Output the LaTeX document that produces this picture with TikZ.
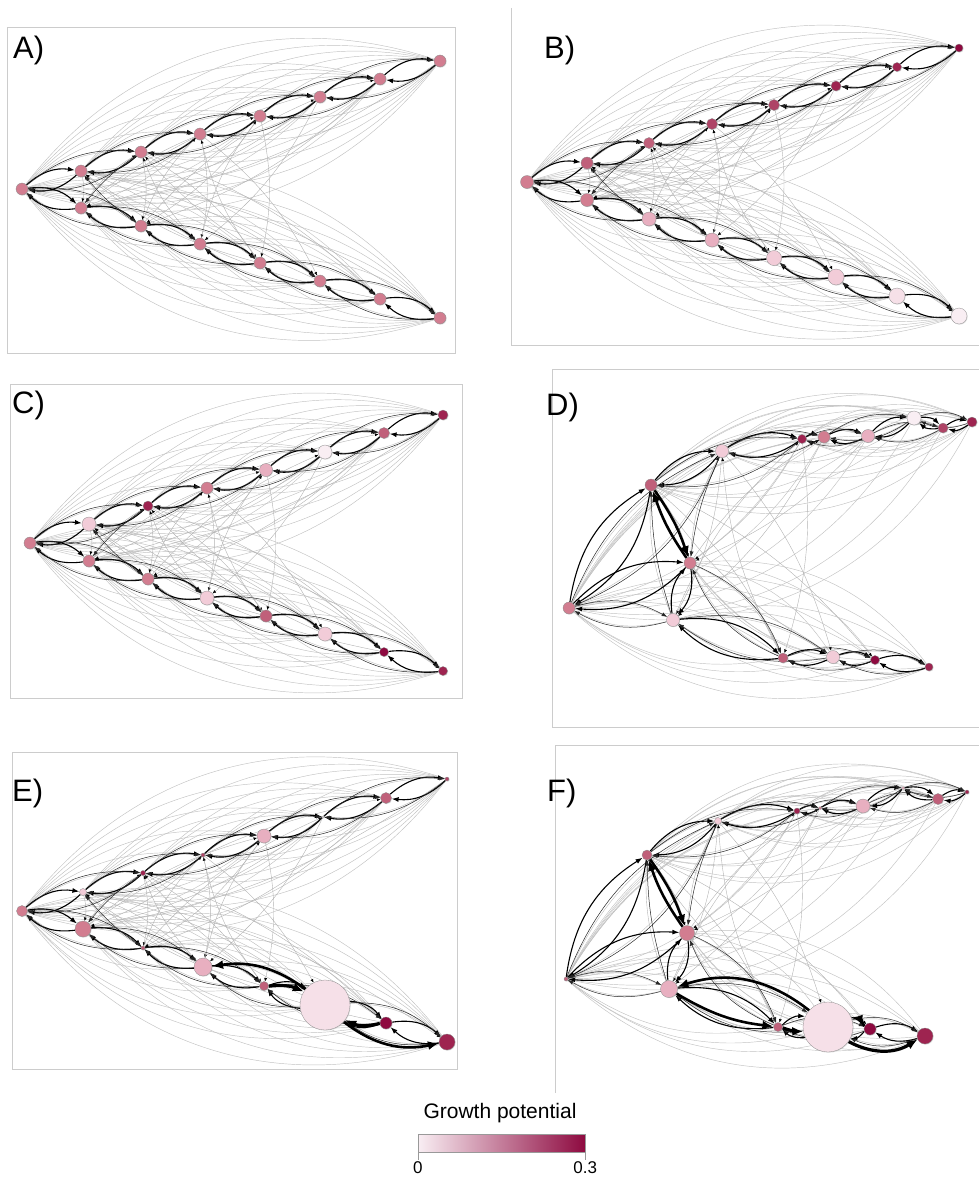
\documentclass[tikz,border=0pt]{standalone}
\usepackage{fontspec}
\setmainfont{Liberation Sans}
\usetikzlibrary{arrows.meta,shadows}

\definecolor{gp0}{HTML}{F9EEF3}
\definecolor{gpx}{HTML}{F6E0E8}
\definecolor{gp1}{HTML}{F2CCD8}
\definecolor{gp2}{HTML}{E8AFC0}
\definecolor{gp3}{HTML}{D27D90}
\definecolor{gp4}{HTML}{C0607A}
\definecolor{gp5}{HTML}{AE4466}
\definecolor{gp6}{HTML}{9E2450}
\definecolor{gp7}{HTML}{8E0A40}
\definecolor{gpmid}{HTML}{D58596}

\pgfdeclarelayer{bg}
\pgfsetlayers{bg,main}

% edges of one panel: #1 panel, #2 upper count, #3 lower count, #4 cross limit
\newcommand\drawnet[4]{%
  \begin{pgfonlayer}{bg}
  % faint arcs along each branch
  \foreach \sd/\nn in {u/#2,l/#3}{
    \foreach \i in {0,...,\nn}{
      \pgfmathtruncatemacro\k{\i+2}
      \ifnum\k>\nn\relax\else
        \foreach \j in {\k,...,\nn}{
          \pgfmathtruncatemacro\bnd{14+3*(\j-\i)}
          \draw[faint] (#1\sd\i) to[bend left=\bnd] (#1\sd\j);
          \draw[faint] (#1\sd\i) to[bend right=\bnd] (#1\sd\j);
        }
      \fi
    }
  }
  % faint links between the branches
  \foreach \i in {1,...,#2}{
    \foreach \j in {1,...,#3}{
      \pgfmathtruncatemacro\sm{\i+\j}
      \ifnum\sm<#4
        \ifodd\sm \draw[cross] (#1l\j) to[bend left=12] (#1u\i);
        \else \draw[cross] (#1u\i) to[bend left=12] (#1l\j); \fi
      \fi
    }
  }
  % main links
  \foreach \sd/\nn in {u/#2,l/#3}{
    \pgfmathtruncatemacro\m{\nn-1}
    \foreach \i in {0,...,\m}{
      \pgfmathtruncatemacro\j{\i+1}
      \draw[link] (#1\sd\i) to[bend left=25] (#1\sd\j);
      \draw[link] (#1\sd\j) to[bend left=25] (#1\sd\i);
    }
    \pgfmathtruncatemacro\m{\nn-2}
    \foreach \i in {0,...,\m}{
      \pgfmathtruncatemacro\j{\i+2}
      \draw[thinlink] (#1\sd\i) to[bend left=22] (#1\sd\j);
      \draw[thinlink] (#1\sd\j) to[bend left=22] (#1\sd\i);
    }
  }
  \draw[thinlink] (#1u2) to[bend right=8] (#1l1);
  \draw[thinlink] (#1l2) to[bend left=8] (#1u1);
  \end{pgfonlayer}
}

\begin{document}
\begin{tikzpicture}[x=1pt, y=-1pt,
    vtx/.style={circle, draw=black!45, line width=0.3pt, inner sep=0pt, minimum size=#1pt,
      drop shadow={opacity=0.25, shadow xshift=0.7pt, shadow yshift=-0.7pt}},
    link/.style={-{Latex[length=7pt,width=5pt]}, line width=1.1pt},
    thinlink/.style={-{Latex[length=5.5pt,width=4pt]}, line width=0.5pt, black!85},
    heavy/.style={-{Latex[length=11pt,width=9pt]}, line width=2.6pt},
    faint/.style={black!24, line width=0.45pt},
    cross/.style={black!30, line width=0.4pt, -{Latex[length=3.5pt,width=3pt,color=black]}},
    frame/.style={black!20, line width=0.8pt},
    panel/.style={anchor=base west, inner sep=0pt, font=\fontsize{31}{34}\selectfont}]
\useasboundingbox (0,0) rectangle (979,1180);

% Panel A
\draw[frame] (7,27) rectangle (455,353);
\node[panel] (labA) at (13,59) {A)};
\node[vtx=12, fill=gp3, alias=Al0] (Au0) at (22,189) {};
\foreach \i/\x/\y in {1/81/171, 2/141/152, 3/200/134, 4/260/116, 5/320/97, 6/380/79, 7/440/61}
  \node[vtx=12, fill=gp3] (Au\i) at (\x,\y) {};
\foreach \i/\x/\y in {1/81/208, 2/141/226, 3/200/244, 4/260/263, 5/320/281, 6/380/299, 7/440/318}
  \node[vtx=12, fill=gp3] (Al\i) at (\x,\y) {};
\drawnet{A}{7}{7}{9}

% Panel B
\draw[frame] (511,8) -- (511,345) -- (979,345);
\node[panel] (labB) at (544,59) {B)};
\node[vtx=13, fill=gp3, alias=Bl0] (Bu0) at (527,182) {};
\foreach \i/\x/\y/\d/\col in {1/587/163/12/gp4, 2/649/143/11/gp4, 3/712/124/11/gp5, 4/774/105/11/gp5,
    5/836/86/10/gp6, 6/897/67/9/gp6, 7/959/48/8/gp7}
  \node[vtx=\d, fill=\col] (Bu\i) at (\x,\y) {};
\foreach \i/\x/\y/\d/\col in {1/587/200/13/gp3, 2/649/219/14/gp2, 3/712/240/14/gp2, 4/774/258/15/gp1,
    5/836/277/16/gp1, 6/897/296/16/gpx, 7/959/316/16/gp0}
  \node[vtx=\d, fill=\col] (Bl\i) at (\x,\y) {};
\drawnet{B}{7}{7}{9}

% Panel C
\draw[frame] (10,384) rectangle (462,698);
\node[panel] (labC) at (12,413) {C)};
\node[vtx=12, fill=gp3, alias=Cl0] (Cu0) at (30,543) {};
\foreach \i/\x/\y/\d/\col in {1/89/524/14/gp1, 2/148/506/10/gp6, 3/207/488/12/gp3, 4/266/470/13/gp2,
    5/325/452/14/gp0, 6/384/433/11/gp4, 7/443/415/10/gp6}
  \node[vtx=\d, fill=\col] (Cu\i) at (\x,\y) {};
\foreach \i/\x/\y/\d/\col in {1/89/561/12/gp3, 2/148/579/12/gp3, 3/207/598/14/gp1, 4/266/616/12/gp4,
    5/325/634/14/gp1, 6/384/652/9/gp7, 7/443/671/9/gp6}
  \node[vtx=\d, fill=\col] (Cl\i) at (\x,\y) {};
\drawnet{C}{7}{7}{9}

% Panel D
\draw[frame] (979,369) -- (552,369) -- (552,727) -- (979,727);
\node[panel] (labD) at (546,415) {D)};
\node[vtx=12, fill=gp3, alias=Dl0] (Du0) at (569,608) {};
\foreach \i/\x/\y/\d/\col in {1/651/485/12/gp4, 2/722/451/13/gp1, 3/802/439/9/gp6, 4/824/437/12/gp3,
    5/868/436/13/gp2, 6/914/418/14/gp0, 7/943/428/10/gp5, 8/972/422/10/gp6}
  \node[vtx=\d, fill=\col] (Du\i) at (\x,\y) {};
\foreach \i/\x/\y/\d/\col in {1/690/563/12/gp3, 2/673/620/13/gp1, 3/783/658/10/gp4, 4/833/657/13/gp1,
    5/875/660/9/gp7, 6/929/667/8/gp6}
  \node[vtx=\d, fill=\col] (Dl\i) at (\x,\y) {};
\drawnet{D}{8}{6}{7}
\begin{pgfonlayer}{bg}
  \draw[heavy] (Du1) to[bend left=8] (Dl1);
  \draw[heavy] (Dl1) to[bend left=8] (Du1);
\end{pgfonlayer}

% Panel E
\draw[frame] (12,752) rectangle (457,1069);
\node[panel] (labE) at (12,801) {E)};
\node[vtx=11, fill=gp3, alias=El0] (Eu0) at (22,911) {};
\foreach \i/\x/\y/\d/\col in {1/83/892/7/gp1, 2/143/873/5/gp6, 3/203/855/4/gp5, 4/264/836/14/gp2,
    5/323/817/2/gp0, 6/386/798/11/gp4, 7/447/779/4/gp5}
  \node[vtx=\d, fill=\col] (Eu\i) at (\x,\y) {};
\foreach \i/\x/\y/\d/\col in {1/83/929/16/gp3, 2/143/948/4/gp4, 3/203/967/18/gp2, 4/264/986/9/gp4,
    5/325/1005/50/gpx, 6/386/1023/12/gp7, 7/447/1042/16/gp6}
  \node[vtx=\d, fill=\col] (El\i) at (\x,\y) {};
\drawnet{E}{7}{7}{9}
\begin{pgfonlayer}{bg}
  \draw[heavy, line width=3.2pt] (El4) to[bend left=15] (El5);
  \draw[heavy] (El5) to[bend right=22] (El3);
  \draw[heavy, line width=3.2pt] (El6) to[bend left=20] (El5);
  \draw[heavy] (El5) to[bend right=25] (El7);
\end{pgfonlayer}

% Panel F
\draw[frame] (979,745) -- (555,745) -- (555,1093);
\node[panel] (labF) at (547,801) {F)};
\node[vtx=4, fill=gp4, alias=Fl0] (Fu0) at (566,979) {};
\foreach \i/\x/\y/\d/\col in {1/647/855/10/gp4, 2/718/821/7/gp1, 3/797/811/6/gp6, 4/820/808/3/gp3,
    5/863/806/14/gp2, 6/903/788/3/gp2, 7/938/799/11/gp4, 8/967/792/4/gp6}
  \node[vtx=\d, fill=\col] (Fu\i) at (\x,\y) {};
\foreach \i/\x/\y/\d/\col in {1/687/933/15/gp3, 2/669/989/17/gp2, 3/778/1027/9/gp4, 4/828/1027/50/gpx,
    5/870/1029/12/gp7, 6/925/1036/16/gp6}
  \node[vtx=\d, fill=\col] (Fl\i) at (\x,\y) {};
\drawnet{F}{8}{6}{7}
\begin{pgfonlayer}{bg}
  \draw[heavy] (Fu1) to[bend left=8] (Fl1);
  \draw[heavy] (Fl1) to[bend left=8] (Fu1);
  \draw[heavy] (Fl4) to[bend right=28] (Fl2);
  \draw[heavy] (Fl2) to[bend right=12] (Fl3);
  \draw[heavy, line width=3.2pt] (Fl3) to[bend right=10] (Fl4);
  \draw[heavy, line width=3.2pt] (Fl4) to[bend right=30] (Fl6);
  \draw[heavy] (Fl5) to[bend right=25] (Fl4);
\end{pgfonlayer}

% colour key
\node[anchor=base, inner sep=0pt, font=\fontsize{21}{24}\selectfont] (gptitle) at (500,1118) {Growth potential};
\node[draw=black!40, line width=0.3pt, minimum width=167pt, minimum height=18pt, inner sep=0pt,
  left color=gp0, middle color=gpmid, right color=gp7] (gpbar) at (501.5,1143) {};
\draw[black!40] (gpbar.south west) -- ++(0,8) coordinate (gptl);
\draw[black!40] (gpbar.south east) -- ++(0,8) coordinate (gptr);
\node[below=1pt, inner sep=0pt, font=\fontsize{17}{20}\selectfont] (gplo) at (gptl) {0};
\node[below=1pt, inner sep=0pt, font=\fontsize{17}{20}\selectfont] (gphi) at (gptr) {0.3};
\end{tikzpicture}
\end{document}
